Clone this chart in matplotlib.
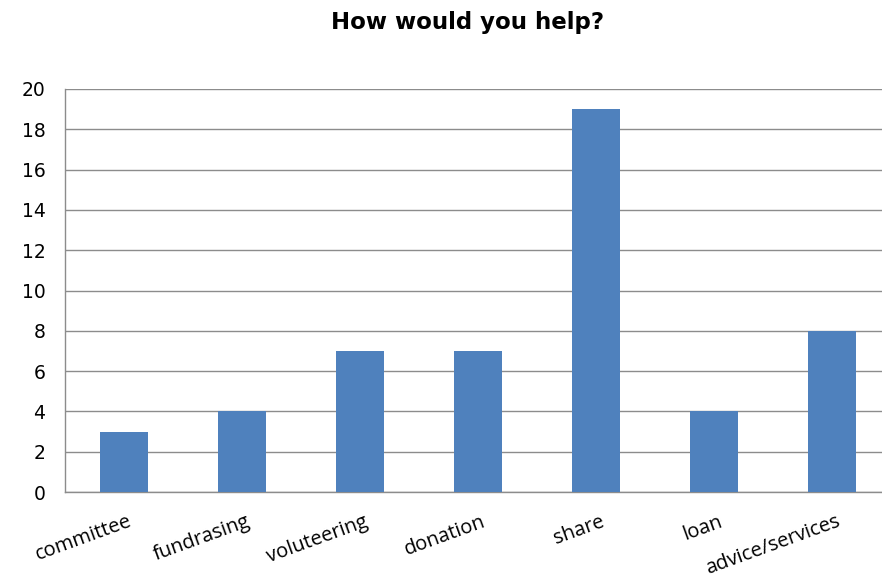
import matplotlib
matplotlib.use("Agg")
import matplotlib.pyplot as plt
from matplotlib.transforms import ScaledTranslation

categories = ["committee", "fundrasing", "voluteering", "donation", "share", "loan", "advice/services"]
values = [3, 4, 7, 7, 19, 4, 8]
yticks = [0, 2, 4, 6, 8, 10, 12, 14, 16, 18, 20]

fig = plt.figure(figsize=(8.82, 5.87), dpi=100)
ax = fig.add_axes([0.0737, 0.1618, 0.9365, 0.6866])

x = list(range(len(categories)))
ax.bar(x, values, width=0.41, color="#4F81BD", zorder=3)
ax.set_xlim(-0.5, len(categories) - 0.5)
ax.set_ylim(0, 20)
ax.set_yticks(yticks, [str(v) for v in yticks])
ax.set_xticks(x, categories)
ax.yaxis.grid(True, color="#8C8C8C", linewidth=1.0, zorder=0)
ax.set_axisbelow(True)
ax.tick_params(axis="y", length=0, pad=14, labelsize=13.5, labelfontfamily="DejaVu Sans")
ax.tick_params(axis="x", length=0, pad=14, labelsize=14.5, labelfontfamily="Open Sans",
               labelrotation=20)
for s in ["top", "right"]:
    ax.spines[s].set_visible(False)
for s in ["left", "bottom"]:
    ax.spines[s].set_color("#8C8C8C")
    ax.spines[s].set_linewidth(1.0)

off = ScaledTranslation(4 / 100, 0, fig.dpi_scale_trans)
for lab in ax.get_xticklabels():
    lab.set_horizontalalignment("right")
    lab.set_verticalalignment("top")
    lab.set_rotation_mode("anchor")
    lab.set_transform(lab.get_transform() + off)

fig.text(0.530, 0.962, "How would you help?", ha="center", va="center",
         fontsize=16.5, fontweight="bold", family="DejaVu Sans")

fig.savefig("out.png", dpi=100)
